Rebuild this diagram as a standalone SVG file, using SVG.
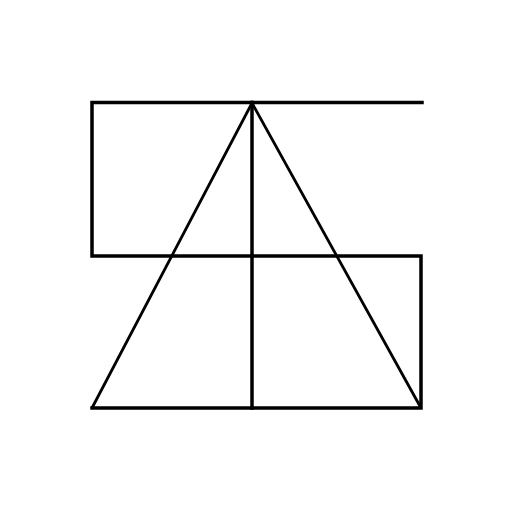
<svg xmlns="http://www.w3.org/2000/svg" width="512" height="512" viewBox="0 0 512 512">
<style>
.l{fill:none;stroke:#000;stroke-width:3.5;stroke-linecap:square}
.t{fill:none;stroke:#000;stroke-width:2.8}
</style>
<rect width="512" height="512" fill="#fff"/>
<g id="shape">
<path class="l" d="M422,102.5 H92 V256 H421 V408 H92"/>
<path class="l" d="M252,102.5 V408"/>
<path class="t" d="M92,408 L252,103 L421,408"/>
</g>
</svg>
